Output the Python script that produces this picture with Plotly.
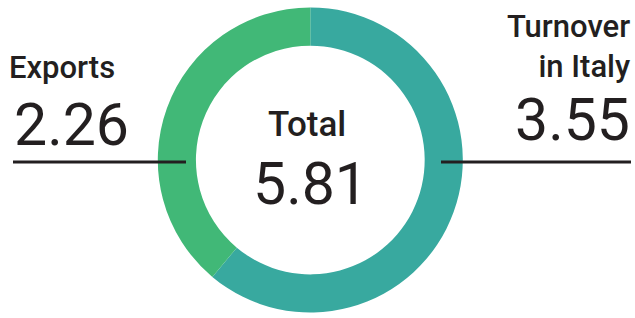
import plotly.graph_objects as go

labels = ["Turnover in Italy", "Exports"]
values = [3.55, 2.26]
colors = ["#38A99F", "#41B877"]
total_label = "Total"
total_value = "5.81"

W, H = 635, 318
cx, cy, R = 310.3, 160.0, 152.5
FONT = "Roboto"
TXT = "#231F20"

fig = go.Figure(go.Pie(
    labels=labels, values=values, hole=0.75, sort=False, direction="clockwise",
    rotation=0, marker=dict(colors=colors, line=dict(width=0)),
    textinfo="none", hoverinfo="label+value", showlegend=False,
    domain=dict(x=[(cx - R) / W, (cx + R) / W], y=[(H - cy - R) / H, (H - cy + R) / H]),
))

def px(x):
    return x / W

def py(y):
    return 1 - y / H

def f(size, weight):
    return dict(size=size, color=TXT, family=FONT, weight=weight)

ann = []
ann.append(dict(text=labels[1].split()[0], x=px(7), y=py(67), xanchor="left", yanchor="middle",
                font=f(31, 500)))
ann.append(dict(text=f"{values[1]:.2f}", x=px(12), y=py(124), xanchor="left", yanchor="middle",
                font=f(59, 400)))
ann.append(dict(text="Turnover<br>in Italy", x=px(632), y=py(47), xanchor="right", yanchor="middle",
                align="right", font=f(31, 500)))
ann.append(dict(text=f"{values[0]:.2f}", x=px(632), y=py(119), xanchor="right", yanchor="middle",
                font=f(59, 400)))
ann.append(dict(text=total_label, x=px(307), y=py(124), xanchor="center", yanchor="middle",
                font=f(35, 500)))
ann.append(dict(text=total_value, x=px(310), y=py(183), xanchor="center", yanchor="middle",
                font=f(59, 400)))
for a in ann:
    a.update(xref="paper", yref="paper", showarrow=False)

shapes = [
    dict(type="line", xref="paper", yref="paper", x0=px(13), x1=px(186), y0=py(162), y1=py(162),
         line=dict(color=TXT, width=3)),
    dict(type="line", xref="paper", yref="paper", x0=px(441), x1=px(631), y0=py(162), y1=py(162),
         line=dict(color=TXT, width=3)),
]

fig.update_layout(width=W, height=H, margin=dict(l=0, r=0, t=0, b=0),
                  paper_bgcolor="white", plot_bgcolor="white",
                  annotations=ann, shapes=shapes)
fig.write_html("out.html")
